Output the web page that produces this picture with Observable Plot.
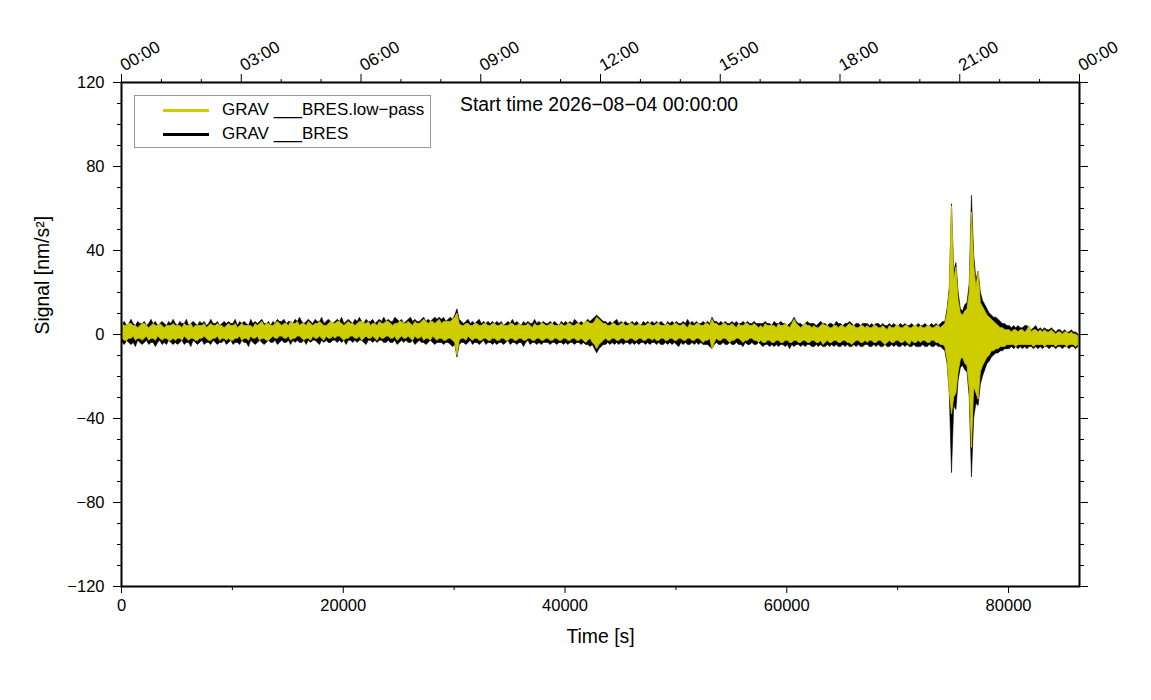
<!DOCTYPE html>
<html>
<head>
<meta charset="utf-8">
<script src="https://cdn.jsdelivr.net/npm/d3@7"></script>
<script src="https://cdn.jsdelivr.net/npm/@observablehq/plot@0.6"></script>
<style>
  body { margin: 0; background: #fff; font-family: "Liberation Sans", Arial, sans-serif; }
  #wrap { position: relative; width: 1151px; height: 700px; }
  #title { position: absolute; left: 460px; top: 92px; font-size: 19.4px; color: #000; white-space: nowrap; line-height: 24px; }
  #legend { position: absolute; left: 134px; top: 95px; width: 297px; height: 53px; border: 1px solid #999; background: #fff; box-sizing: border-box; }
  .lrow { position: absolute; left: 0; height: 20px; width: 100%; }
  .lline { position: absolute; left: 28px; width: 46px; height: 3px; top: 9px; }
  .ltext { position: absolute; left: 87px; top: 0; font-size: 17px; line-height: 20px; white-space: nowrap; color: #000; }
</style>
</head>
<body>
<div id="wrap">
  <div id="chart"></div>
  <div id="legend">
    <div class="lrow" style="top:4px"><div class="lline" id="l1"></div><div class="ltext" id="t1"></div></div>
    <div class="lrow" style="top:28px"><div class="lline" id="l2"></div><div class="ltext" id="t2"></div></div>
  </div>
  <div id="title"></div>
</div>
<script>
// ---- chart data ----
const seriesNames = ["GRAV ___BRES.low\u2212pass", "GRAV ___BRES"];
const seriesColors = ["#cdcd00", "#000000"];
const startTimeText = "Start time 2026\u221208\u221204 00:00:00";
const windowSeconds = 200; // each entry = max / min of the trace in one 200 s window

// raw trace GRAV ___BRES (nm/s^2)
const rawMax = [
  5,6,4,5,7,5,4,6,5,5,6,4,5,7,5,6,4,5,6,5,4,6,5,7,
  5,4,6,5,5,7,4,5,6,5,4,6,5,6,4,5,7,5,5,6,4,5,6,5,
  6,5,5,7,4,6,5,6,5,4,7,5,6,5,6,7,5,5,6,4,6,5,7,6,
  6,7,5,6,6,5,7,6,8,6,5,6,7,6,5,7,6,6,8,5,6,7,6,5,
  6,7,6,8,5,6,7,6,5,7,6,8,6,5,7,6,6,7,5,6,7,6,8,6,
  7,6,6,8,7,6,7,5,6,7,8,6,7,6,6,7,8,6,7,6,7,8,7,8,
  7,8,6,7,8,7,9,12,7,6,5,6,7,5,6,5,6,7,5,6,5,6,5,6,
  5,6,5,6,4,5,6,5,7,5,6,5,4,6,5,6,5,5,7,5,6,5,6,5,
  5,6,5,6,5,4,6,5,6,5,6,5,7,6,5,6,5,6,7,6,7,8,9,8,
  7,6,6,5,6,5,6,7,5,6,5,6,5,5,6,5,6,5,4,6,5,6,5,6,
  5,6,5,6,5,4,6,5,6,5,6,5,5,6,5,7,5,6,5,6,5,5,6,5,
  6,5,8,6,6,5,6,5,6,5,5,6,5,6,5,5,6,5,6,5,5,6,5,5,
  5,5,6,5,5,4,6,5,5,6,5,5,4,5,6,8,6,5,5,4,5,6,5,5,
  5,4,5,6,5,5,4,5,5,4,6,5,5,4,5,5,6,5,4,5,5,4,5,5,
  5,4,5,4,5,5,4,5,4,4,5,4,5,4,4,5,4,5,4,4,5,4,4,5,
  4,4,5,4,4,5,4,5,4,5,6,6,12,22,62,30,34,20,12,11,14,15,24,66,
  38,26,30,20,16,14,12,10,9,8,8,7,6,5,5,4,4,3,4,3,4,3,3,4,
  4,3,2,3,4,2,3,2,3,2,2,3,2,1,2,2,1,2,1,1,2,1,1,0
];
const rawMin = [
  -4,-5,-3,-4,-5,-4,-6,-3,-4,-5,-4,-3,-5,-4,-4,-6,-4,-3,-5,-4,-5,-3,-4,-5,
  -4,-5,-4,-3,-5,-4,-4,-6,-3,-4,-5,-4,-3,-5,-4,-4,-5,-3,-4,-5,-4,-4,-3,-5,
  -4,-3,-5,-4,-4,-5,-3,-4,-4,-6,-3,-4,-5,-4,-3,-4,-5,-4,-3,-4,-4,-3,-5,-4,
  -3,-4,-4,-3,-5,-3,-4,-3,-4,-4,-3,-5,-3,-4,-3,-3,-4,-5,-3,-4,-3,-4,-4,-3,
  -3,-4,-3,-4,-3,-5,-3,-3,-4,-3,-4,-3,-3,-4,-5,-3,-3,-4,-3,-4,-3,-3,-4,-4,
  -3,-4,-4,-3,-5,-4,-3,-4,-3,-4,-4,-3,-5,-4,-3,-4,-4,-5,-4,-3,-4,-5,-4,-4,
  -4,-5,-4,-4,-5,-6,-5,-11,-5,-4,-4,-5,-4,-3,-5,-4,-4,-5,-4,-3,-5,-4,-4,-5,
  -4,-5,-4,-4,-5,-4,-3,-5,-4,-4,-5,-4,-4,-6,-4,-3,-5,-4,-4,-5,-4,-5,-4,-4,
  -4,-5,-4,-4,-5,-4,-4,-5,-4,-5,-4,-4,-5,-4,-4,-5,-4,-5,-5,-6,-5,-7,-9,-7,
  -6,-5,-5,-4,-5,-4,-5,-4,-5,-4,-5,-4,-4,-5,-4,-5,-4,-5,-4,-4,-5,-4,-5,-4,
  -4,-5,-4,-5,-5,-4,-5,-4,-5,-4,-5,-6,-4,-5,-4,-5,-5,-4,-5,-4,-5,-4,-5,-5,
  -5,-6,-7,-5,-4,-5,-5,-4,-5,-5,-4,-5,-5,-4,-5,-5,-6,-4,-5,-5,-4,-5,-5,-4,
  -5,-6,-5,-5,-6,-5,-6,-5,-6,-5,-5,-6,-5,-7,-5,-6,-5,-5,-6,-5,-6,-5,-5,-6,
  -6,-5,-6,-5,-6,-6,-5,-6,-5,-6,-5,-6,-6,-5,-6,-5,-6,-6,-5,-6,-5,-6,-6,-5,
  -5,-6,-6,-5,-6,-5,-6,-6,-5,-6,-6,-5,-6,-5,-6,-6,-5,-6,-5,-6,-6,-5,-6,-6,
  -6,-5,-6,-6,-5,-6,-6,-5,-6,-6,-7,-8,-14,-28,-66,-34,-36,-22,-16,-15,-17,-18,-30,-68,
  -40,-33,-34,-24,-20,-17,-14,-13,-11,-10,-9,-9,-8,-8,-7,-7,-7,-6,-7,-6,-7,-6,-7,-6,
  -7,-6,-6,-7,-6,-7,-6,-7,-6,-6,-7,-6,-6,-7,-6,-6,-7,-6,-6,-7,-6,-6,-7,-6
];
// low-pass trace GRAV ___BRES.low-pass (nm/s^2)
const lowMax = [
  5,4,4,5,5,4,4,3,4,5,5,4,3,4,5,4,4,5,4,3,4,4,4,5,
  4,4,4,3,5,4,4,5,3,4,4,4,4,5,3,4,5,4,4,5,4,4,3,4,
  5,4,4,5,3,4,5,4,4,4,4,3,5,4,5,6,4,5,5,4,4,5,6,5,
  4,5,5,4,6,5,5,6,4,5,5,4,6,5,4,5,5,6,5,4,4,5,6,5,
  5,6,6,5,4,5,6,5,5,4,5,6,6,5,5,6,4,5,5,4,6,5,5,6,
  6,5,4,5,5,6,6,5,5,6,5,4,6,5,5,6,7,6,5,6,6,5,6,7,
  5,6,6,6,6,7,8,10,5,4,4,5,5,4,4,5,5,4,4,5,5,4,4,5,
  5,4,4,5,4,4,4,5,5,4,4,5,4,4,4,5,4,3,5,4,4,5,5,4,
  4,5,5,4,4,4,5,4,4,5,5,4,4,5,5,4,5,6,6,5,5,6,8,7,
  6,5,5,4,4,5,5,4,4,5,5,4,4,5,5,4,4,5,4,4,4,5,5,4,
  4,5,5,4,4,4,5,4,4,5,5,4,4,5,4,3,5,4,4,5,5,4,4,5,
  5,4,7,5,5,4,4,5,5,4,4,5,4,3,5,4,4,5,5,4,4,5,4,3,
  4,3,5,4,4,4,4,3,5,4,4,5,4,3,5,7,5,4,3,4,5,4,4,3,
  4,3,3,4,5,4,4,3,3,4,4,3,4,4,3,4,5,4,4,3,3,4,4,3,
  4,3,3,4,4,3,3,4,3,2,4,3,3,4,4,3,3,4,4,3,3,4,4,3,
  4,3,3,4,4,3,3,4,4,3,4,5,10,20,61,26,32,16,10,9,11,12,20,58,
  33,22,30,15,13,11,9,8,7,6,5,4,3,3,2,2,2,1,2,2,1,2,2,1,
  2,4,1,2,2,1,2,1,2,1,1,2,1,0,1,1,0,1,1,0,1,0,0,-1
];
const lowMin = [
  -2,-3,-3,-2,-2,-1,-3,-2,-2,-3,-2,-1,-3,-2,-2,-3,-1,-2,-3,-2,-2,-3,-3,-2,
  -3,-2,-2,-3,-1,-2,-3,-2,-2,-3,-3,-2,-2,-1,-2,-3,-3,-2,-2,-1,-3,-2,-2,-3,
  -2,-3,-3,-2,-2,-1,-3,-2,-2,-3,-1,-2,-2,-1,-3,-2,-2,-3,-3,-2,-1,-2,-2,-1,
  -1,-2,-2,-1,-3,-2,-2,-1,-1,-2,-3,-2,-2,-3,-1,-2,-2,-1,-2,-3,-1,-2,-2,-1,
  -2,-1,-1,-2,-3,-2,-2,-1,-1,-2,-2,-1,-3,-2,-1,-2,-2,-1,-2,-3,-1,-2,-2,-1,
  -1,-2,-2,-1,-3,-2,-1,-2,-2,-1,-2,-3,-1,-2,-2,-1,-3,-2,-2,-3,-1,-2,-3,-2,
  -2,-3,-3,-2,-2,-3,-4,-10,-3,-2,-2,-3,-1,-2,-3,-2,-2,-3,-3,-2,-2,-3,-3,-2,
  -2,-3,-3,-2,-2,-3,-3,-2,-2,-3,-3,-2,-2,-3,-3,-2,-2,-3,-3,-2,-2,-3,-3,-2,
  -2,-3,-3,-2,-2,-3,-3,-2,-2,-3,-3,-2,-2,-3,-3,-2,-3,-4,-3,-2,-4,-5,-7,-5,
  -4,-3,-2,-3,-3,-2,-2,-3,-3,-2,-2,-3,-3,-2,-2,-3,-3,-2,-2,-3,-3,-2,-2,-3,
  -2,-3,-3,-2,-2,-3,-3,-2,-2,-3,-3,-2,-2,-3,-3,-2,-2,-3,-3,-2,-2,-3,-4,-3,
  -3,-2,-7,-4,-2,-3,-3,-2,-2,-3,-4,-3,-3,-2,-2,-3,-4,-3,-3,-2,-2,-3,-3,-4,
  -3,-4,-4,-3,-3,-4,-4,-3,-3,-4,-4,-3,-3,-4,-4,-3,-3,-4,-4,-3,-3,-4,-4,-3,
  -3,-4,-4,-3,-5,-4,-3,-4,-4,-3,-3,-4,-4,-3,-3,-4,-4,-5,-4,-3,-3,-4,-4,-3,
  -4,-3,-3,-4,-4,-3,-3,-4,-5,-4,-3,-4,-4,-3,-3,-4,-4,-3,-4,-5,-3,-4,-4,-3,
  -4,-3,-3,-4,-4,-3,-3,-4,-4,-5,-5,-6,-12,-27,-38,-30,-28,-18,-12,-11,-14,-15,-26,-54,
  -25,-28,-31,-18,-15,-13,-11,-10,-8,-8,-7,-7,-6,-6,-6,-5,-5,-5,-5,-6,-5,-5,-5,-5,
  -5,-5,-5,-6,-5,-5,-5,-5,-6,-5,-5,-5,-5,-6,-5,-5,-5,-5,-6,-5,-5,-5,-6,-5
];

// axis ticks
const xDomain = [0, 86400];
const yDomain = [-120, 120];
const xMajor = [0, 20000, 40000, 60000, 80000];
const xMinor = [10000, 30000, 50000, 70000];
const yMajor = [-120, -80, -40, 0, 40, 80, 120];
const yMinor = [-110,-100,-90,-70,-60,-50,-30,-20,-10,10,20,30,50,60,70,90,100,110];
const hourMajor = [0, 10800, 21600, 32400, 43200, 54000, 64800, 75600, 86400];
const hourMinor = [3600, 7200, 14400, 18000, 25200, 28800, 36000, 39600, 46800, 50400, 57600, 61200, 68400, 72000, 79200, 82800];
const topLabels = ["00:00","03:00","06:00","09:00","12:00","15:00","18:00","21:00","00:00"];

// ---- window envelopes ----
function band(maxs, mins) {
  return maxs.map((hi, i) => ({t: i * windowSeconds + windowSeconds / 2, hi, lo: mins[i]}));
}
const raw = band(rawMax, rawMin);
const low = band(lowMax, lowMin);

const fmtY = d => d < 0 ? "\u2212" + (-d) : String(d);
const blank = () => "";
const F = "Liberation Sans, Arial, sans-serif";

const chart = Plot.plot({
  width: 1151, height: 700,
  marginLeft: 121, marginRight: 72, marginTop: 82, marginBottom: 114,
  x: {domain: xDomain},
  y: {domain: yDomain},
  style: {fontFamily: F, fontSize: "16.5px", color: "#000", background: "#fff"},
  marks: [
    Plot.areaY(raw, {x: "t", y1: "lo", y2: "hi", fill: seriesColors[1], stroke: seriesColors[1], strokeWidth: 0.6, curve: "linear"}),
    Plot.areaY(low, {x: "t", y1: "lo", y2: "hi", fill: seriesColors[0], stroke: seriesColors[0], strokeWidth: 0.8, curve: "linear"}),
    Plot.frame({stroke: "#000", strokeWidth: 2}),
    Plot.axisY({anchor: "left", ticks: yMajor, tickSize: 8, tickPadding: 9, tickFormat: fmtY, label: null, fontSize: 16.5}),
    Plot.axisY({anchor: "left", ticks: yMinor, tickSize: 4, tickFormat: blank, label: null}),
    Plot.axisY({anchor: "right", ticks: yMajor, tickSize: 8, tickFormat: blank, label: null}),
    Plot.axisY({anchor: "right", ticks: yMinor, tickSize: 4, tickFormat: blank, label: null}),
    Plot.axisX({anchor: "bottom", ticks: xMajor, tickSize: 7, tickPadding: 6, tickFormat: d => String(d), label: null, fontSize: 16.5}),
    Plot.axisX({anchor: "bottom", ticks: xMinor, tickSize: 4, tickFormat: blank, label: null}),
    Plot.axisX({anchor: "top", ticks: hourMajor, tickSize: 9, tickFormat: blank, label: null}),
    Plot.axisX({anchor: "top", ticks: hourMinor, tickSize: 4, tickFormat: blank, label: null}),
    Plot.text(hourMajor, {x: d => d, text: (d, i) => topLabels[i], frameAnchor: "top", rotate: -30,
      textAnchor: "start", lineAnchor: "bottom", dy: -11, dx: 3, fontSize: 17, fontFamily: F}),
    Plot.text(["Time [s]"], {text: d => d, frameAnchor: "bottom", dy: 56, fontSize: 19.4, fontFamily: F}),
    Plot.text(["Signal [nm/s\u00b2]"], {text: d => d, frameAnchor: "left", rotate: -90, dx: -79, fontSize: 19.4, fontFamily: F})
  ]
});
document.getElementById("chart").appendChild(chart);

document.getElementById("title").textContent = startTimeText;
document.getElementById("l1").style.background = seriesColors[0];
document.getElementById("l2").style.background = seriesColors[1];
document.getElementById("t1").textContent = seriesNames[0];
document.getElementById("t2").textContent = seriesNames[1];
</script>
</body>
</html>
